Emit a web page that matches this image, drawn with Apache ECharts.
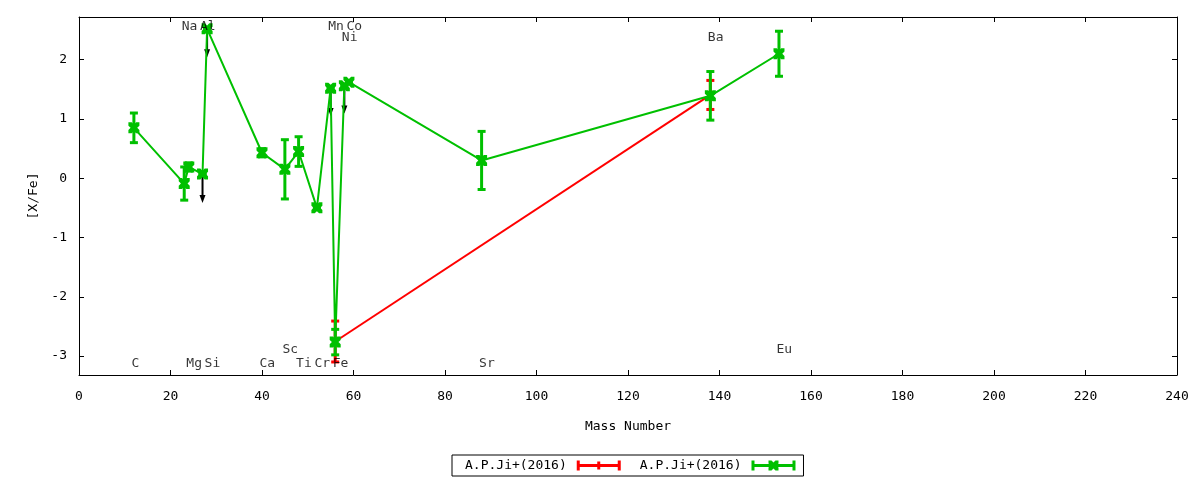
<!DOCTYPE html>
<html><head><meta charset="utf-8">
<script src="https://cdn.jsdelivr.net/npm/echarts@6/dist/echarts.min.js"></script>
<style>html,body{margin:0;padding:0;background:#fff}#c{width:1200px;height:480px}</style>
</head><body><div id="c"></div>
<script>
// ---- data ----
const elements    = ['C','Na','Mg','Al','Si','Ca','Sc','Ti','Cr','Mn','Fe','Ni','Co','Sr','Ba','Eu'];
const massNumbers = [12, 23, 24, 27, 28, 40, 45, 48, 52, 55, 56, 58, 59, 88, 138, 153];
const greenValues = [0.85, -0.09, 0.19, 0.07, 2.52, 0.43, 0.15, 0.45, -0.50, 1.52, -2.765, 1.56, 1.62, 0.30, 1.39, 2.10];
const greenErrors = [0.25, 0.28, 0.07, 0.00, 0.00, 0.07, 0.50, 0.25, 0.02, 0.02, 0.215, 0.02, 0.02, 0.49, 0.41, 0.38];
const redMass     = [56, 138];
const redValues   = [-2.755, 1.405];
const redErrors   = [0.345, 0.245];
const limitMass   = [27, 28, 55, 58];
const limitFrom   = [0.07, 2.52, 1.52, 1.56];
const limitTo     = [-0.42, 2.04, 1.05, 1.09];
const labelY      = [-3.125, 2.55, -3.125, 2.55, -3.125, -3.125, -2.89, -3.125, -3.125, 2.55, -3.125, 2.38, 2.55, -3.125, 2.38, -2.89];
const xRange = [0, 240], xStep = 20;
const yRange = [-3.32, 2.72];
const legendLabels = ['A.P.Ji+(2016)', 'A.P.Ji+(2016) '];

const FONT = 'DejaVu Sans Mono';
const FS = 13;
const RED = '#ff0000', GREEN = '#00c000';

const markerPath = 'path://M0,0H3L5,2L7,0H10V3L8,5L10,7V10H7L5,8L3,10H0V7L2,5L0,3Z';
const redIcon = 'path://M0,0H3V10H0Z M41,0H44V10H41Z M3,3.5H41V6.5H3Z M20.5,1H23.5V9H20.5Z';
const greenIcon = 'path://M0,0H3V10H0Z M41,0H44V10H41Z M3,3.5H41V6.5H3Z M17,0H20L22,2L24,0H27V3L25,5L27,7V10H24L22,8L20,10H17V7L19,5L17,3Z';

function errorBarRender(color) {
  return function (params, api) {
    const x = api.value(0), y = api.value(1), e = api.value(2);
    const p1 = api.coord([x, y + e]);
    const p2 = api.coord([x, y - e]);
    const hw = 4;
    const st = () => ({ stroke: color, lineWidth: 3 });
    return { type: 'group', children: [
      { type: 'line', shape: { x1: p1[0], y1: p1[1], x2: p2[0], y2: p2[1] }, style: st() },
      { type: 'line', shape: { x1: p1[0] - hw, y1: p1[1], x2: p1[0] + hw, y2: p1[1] }, style: st() },
      { type: 'line', shape: { x1: p2[0] - hw, y1: p2[1], x2: p2[0] + hw, y2: p2[1] }, style: st() }
    ]};
  };
}
function arrowRender(params, api) {
  const x = api.value(0), y0 = api.value(1), y1 = api.value(2);
  const a = api.coord([x, y0]), b = api.coord([x, y1]);
  const hl = 8, hh = 3;
  return { type: 'group', children: [
    { type: 'line', shape: { x1: a[0], y1: a[1], x2: b[0], y2: b[1] - hl + 1 }, style: { stroke: '#000', lineWidth: 2 } },
    { type: 'polygon', shape: { points: [[b[0] - hh, b[1] - hl], [b[0] + hh, b[1] - hl], [b[0], b[1]]] }, style: { fill: '#000' } }
  ]};
}

const greenLine = massNumbers.map((m, i) => [m, greenValues[i]]);
const greenBars = massNumbers.map((m, i) => [m, greenValues[i], greenErrors[i]]);
const redLine = redMass.map((m, i) => [m, redValues[i]]);
const redBars = redMass.map((m, i) => [m, redValues[i], redErrors[i]]);
const arrows = limitMass.map((m, i) => [m, limitFrom[i], limitTo[i]]);
const labels = elements.map((el, i) => ({ name: el, value: [massNumbers[i], labelY[i]] }));

const axisCommon = {
  type: 'value',
  axisLine: { show: true, onZero: false, lineStyle: { color: '#000', width: 1 } },
  axisTick: { show: true, inside: true, length: 5, lineStyle: { color: '#000' } },
  splitLine: { show: false },
};

const chart = echarts.init(document.getElementById('c'), null, { renderer: 'canvas' });
chart.setOption({
  animation: false,
  backgroundColor: '#fff',
  grid: { left: 79, right: 23, top: 17, bottom: 105 },
  xAxis: [
    Object.assign({}, axisCommon, {
      position: 'bottom', min: xRange[0], max: xRange[1], interval: xStep,
      name: 'Mass Number', nameLocation: 'middle', nameGap: 45,
      nameTextStyle: { fontFamily: FONT, fontSize: FS, color: '#000' },
      axisLabel: { show: true, margin: 15, fontFamily: FONT, fontSize: FS, color: '#000' }
    }),
    Object.assign({}, axisCommon, {
      position: 'top', min: xRange[0], max: xRange[1], interval: xStep,
      axisLabel: { show: false }
    })
  ],
  yAxis: [
    Object.assign({}, axisCommon, {
      position: 'left', min: yRange[0], max: yRange[1],
      name: '[X/Fe]', nameLocation: 'middle', nameGap: 39,
      nameTextStyle: { fontFamily: FONT, fontSize: FS, color: '#000' },
      axisLabel: { show: true, margin: 12, fontFamily: FONT, fontSize: FS, color: '#000', showMinLabel: false, showMaxLabel: false }
    }),
    Object.assign({}, axisCommon, {
      position: 'right', min: yRange[0], max: yRange[1],
      axisLabel: { show: false }
    })
  ],
  legend: {
    left: 452, top: 455, orient: 'horizontal', align: 'right',
    itemWidth: 44, itemHeight: 10, itemGap: 19,
    padding: [4, 8, 4, 13],
    borderColor: '#000', borderWidth: 1, borderRadius: 0,
    selectedMode: false,
    itemStyle: { borderWidth: 0 },
    textStyle: { fontFamily: FONT, fontSize: FS, color: '#000', padding: [0, 5, 0, 0] },
    formatter: n => n.trim(),
    data: [{ name: legendLabels[0], icon: redIcon }, { name: legendLabels[1], icon: greenIcon }]
  },
  series: [
    { name: legendLabels[0], type: 'line', data: redLine, showSymbol: false, symbol: 'none',
      itemStyle: { color: RED }, lineStyle: { color: RED, width: 2 }, z: 2, silent: true },
    { name: 'redErr', type: 'custom', data: redBars, renderItem: errorBarRender(RED),
      encode: { x: 0, y: [1, 2] }, z: 2, silent: true },
    { name: 'limits', type: 'custom', data: arrows, renderItem: arrowRender,
      encode: { x: 0, y: [1, 2] }, z: 3, silent: true },
    { name: legendLabels[1], type: 'line', data: greenLine, symbol: markerPath, symbolSize: 11,
      itemStyle: { color: GREEN }, lineStyle: { color: GREEN, width: 2 }, z: 4, silent: true },
    { name: 'greenErr', type: 'custom', data: greenBars, renderItem: errorBarRender(GREEN),
      encode: { x: 0, y: [1, 2] }, z: 4, silent: true },
    { name: 'elementLabels', type: 'scatter', data: labels, symbolSize: 1,
      itemStyle: { color: 'rgba(0,0,0,0)' }, z: 5, silent: true,
      label: { show: true, formatter: '{b}', position: 'right', distance: 0, offset: [-3, 0],
               fontFamily: FONT, fontSize: FS, color: '#000' } }
  ]
});
</script></body></html>
